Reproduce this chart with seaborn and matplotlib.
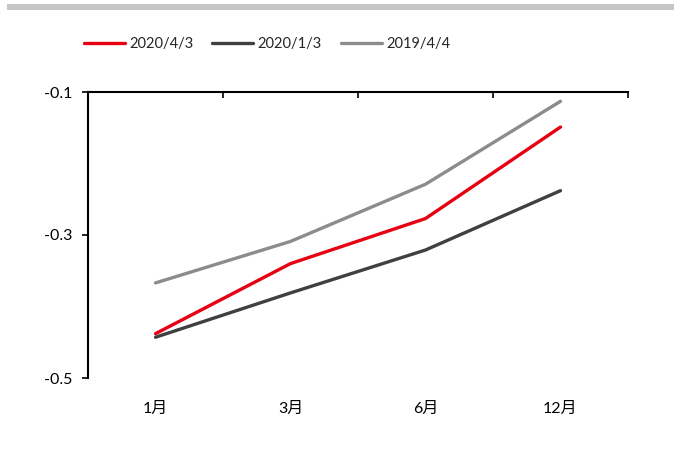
import matplotlib
matplotlib.use("Agg")
import matplotlib.pyplot as plt
from matplotlib.patches import Rectangle
from matplotlib.ticker import FixedLocator
import pandas as pd
import seaborn as sns

# Data
months = ["1月", "3月", "6月", "12月"]
series_names = ["2020/4/3", "2020/1/3", "2019/4/4"]
s_2020_04_03 = [-0.438, -0.340, -0.277, -0.149]
s_2020_01_03 = [-0.443, -0.381, -0.321, -0.238]
s_2019_04_04 = [-0.367, -0.309, -0.229, -0.113]
colors = ["#E60012", "#404040", "#8C8C8C"]
y_ticks = [-0.5, -0.3, -0.1]

rows = []
for name, vals in zip(series_names, [s_2020_04_03, s_2020_01_03, s_2019_04_04]):
    for m, v in zip(months, vals):
        rows.append({"month": m, "value": v, "series": name})
df = pd.DataFrame(rows)

sns.set_theme(style="white")
plt.rcParams["font.family"] = ["Lato", "Noto Sans CJK SC", "DejaVu Sans"]

fig = plt.figure(figsize=(6.74, 4.51), dpi=100)
ax = fig.add_axes([88 / 674, 1 - 378 / 451, 540 / 674, 286 / 451])

sns.lineplot(data=df, x="month", y="value", hue="series", hue_order=series_names,
             palette=colors, linewidth=2.4, ax=ax, sort=False, legend=True)

ax.set_xlim(-0.5, 3.5)
ax.set_ylim(-0.5, -0.1)
ax.set_xlabel("")
ax.set_ylabel("")

# spines: left and top only
for side in ["right", "bottom"]:
    ax.spines[side].set_visible(False)
for side in ["left", "top"]:
    ax.spines[side].set_visible(True)
    ax.spines[side].set_color("black")
    ax.spines[side].set_linewidth(1.5)

ax.yaxis.set_major_locator(FixedLocator(y_ticks))
ax.set_yticklabels([f"{t:g}" for t in y_ticks])
ax.tick_params(axis="y", which="major", left=True, direction="out", length=4,
               width=1.2, color="black", pad=7, labelsize=11.5, labelcolor="black")

# category labels at the bottom, boundary marks on the top spine
ax.set_xticks(range(len(months)))
ax.set_xticklabels(months)
ax.tick_params(axis="x", which="major", bottom=False, top=False, length=0,
               pad=17, labelsize=11.5, labelcolor="black")
ax.xaxis.set_minor_locator(FixedLocator([0.5, 1.5, 2.5, 3.5]))
ax.tick_params(axis="x", which="minor", top=True, bottom=False, direction="in",
               length=4, width=1.2, color="black")

ax.grid(False)

handles, labels = ax.get_legend_handles_labels()
ax.get_legend().remove()
fig.legend(handles, labels, loc="center", bbox_to_anchor=(267 / 674, 1 - 44 / 451),
           ncol=3, frameon=False, fontsize=10.5, handlelength=2.8,
           handletextpad=0.3, columnspacing=1.3)

fig.patches.append(Rectangle((7 / 674, 1 - 9.5 / 451), 1 - 7 / 674, 5.5 / 451,
                             transform=fig.transFigure, facecolor="#C6C6C6",
                             edgecolor="none", figure=fig))

fig.savefig("out.png", dpi=100)
